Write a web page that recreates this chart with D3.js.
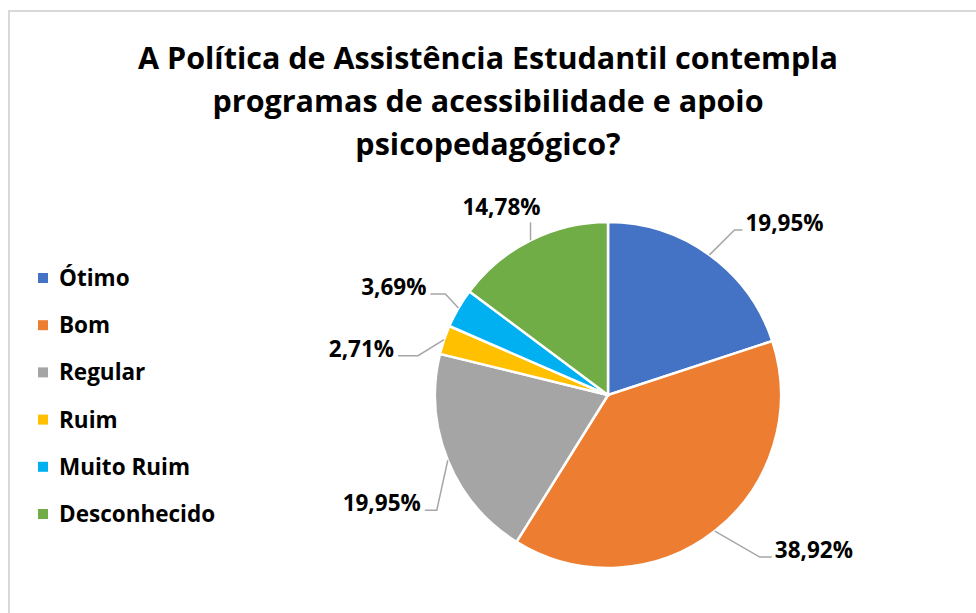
<!DOCTYPE html>
<meta charset="utf-8">
<style>
body { margin: 0; background: #fff; font-family: "Open Sans", Arial, sans-serif; }
.title { font-size: 30px; font-weight: bold; text-anchor: middle; fill: #000; }
.legend text { font-size: 22.5px; font-weight: bold; fill: #000; }
.lbl { font-size: 22.5px; font-weight: bold; fill: #000; }
.lead { fill: none; stroke: #a6a6a6; stroke-width: 1.5; }
</style>
<body>
<script src="https://cdn.jsdelivr.net/npm/d3@7"></script>
<script>

// data
var categories = ["Ótimo", "Bom", "Regular", "Ruim", "Muito Ruim", "Desconhecido"];
var values = [19.95, 38.92, 19.95, 2.71, 3.69, 14.78];
var labels = ["19,95%", "38,92%", "19,95%", "2,71%", "3,69%", "14,78%"];
var colors = ["#4472C4", "#ED7D31", "#A5A5A5", "#FFC000", "#00B0F0", "#70AD47"];
var titleLines = ["A Política de Assistência Estudantil contempla",
                  "programas de acessibilidade e apoio",
                  "psicopedagógico?"];

// leader line layout: [elbow dx, elbow dy, horizontal run]
var leads = [[25, -25, 8], [45, 26, 12], [-11, 50, -12], [-26, 16, -20], [-13, -14, -15], [0, -18, 0]];

var width = 976, height = 613;
var cx = 608, cy = 395, radius = 173;

var svg = d3.select("body").append("svg")
    .attr("width", width)
    .attr("height", height);

// chart frame
svg.append("rect")
    .attr("x", 9).attr("y", 11)
    .attr("width", width + 20).attr("height", height + 20)
    .attr("fill", "none")
    .attr("stroke", "#d9d9d9")
    .attr("stroke-width", 2);

// title, squeezed to the width of the original
var tw = 700;
var title = svg.append("g");
var tNodes = titleLines.map(function(t, i) {
    return title.append("text")
        .attr("class", "title")
        .attr("x", 488)
        .attr("y", 69 + i * 43)
        .text(t);
});
var k = tw / tNodes[0].node().getComputedTextLength();
tNodes.forEach(function(n) {
    var w = n.node().getComputedTextLength();
    n.attr("textLength", w * k).attr("lengthAdjust", "spacingAndGlyphs");
});

// pie
var pie = d3.pie().sort(null).value(function(d) { return d; });
var arc = d3.arc().innerRadius(0).outerRadius(radius);
var arcs = pie(values);

var g = svg.append("g").attr("transform", "translate(" + cx + "," + cy + ")");

g.selectAll("path.slice")
    .data(arcs)
    .enter().append("path")
    .attr("class", "slice")
    .attr("d", arc)
    .attr("fill", function(d, i) { return colors[i]; })
    .attr("stroke", "#fff")
    .attr("stroke-width", 2.5);

// data labels with leader lines
arcs.forEach(function(d, i) {
    var a = (d.startAngle + d.endAngle) / 2;
    var ax = Math.sin(a) * radius, ay = -Math.cos(a) * radius;
    var L = leads[i];
    var ex = ax + L[0], ey = ay + L[1];
    var fx = ex + L[2];
    g.append("path")
        .attr("class", "lead")
        .attr("d", d3.line()([[ax, ay], [ex, ey], [fx, ey]]));
    var t = g.append("text").attr("class", "lbl").text(labels[i]);
    if (L[2] > 0) {
        t.attr("x", fx + 3).attr("y", ey + 1).attr("text-anchor", "start");
    } else if (L[2] < 0) {
        t.attr("x", fx - 4).attr("y", ey + 1).attr("text-anchor", "end");
    } else {
        t.attr("x", ex + 10).attr("y", ey - 7).attr("text-anchor", "end");
    }
});

// legend
var ly = d3.scalePoint().domain(categories).range([278, 514]);
var legend = svg.append("g").attr("class", "legend");
var items = legend.selectAll("g")
    .data(categories)
    .enter().append("g")
    .attr("transform", function(d) { return "translate(38," + ly(d) + ")"; });
items.append("rect")
    .attr("x", 0).attr("y", -5)
    .attr("width", 10).attr("height", 10)
    .attr("fill", function(d, i) { return colors[i]; });
items.append("text")
    .attr("x", 21).attr("y", 8)
    .text(function(d) { return d; });

</script>
</body>
